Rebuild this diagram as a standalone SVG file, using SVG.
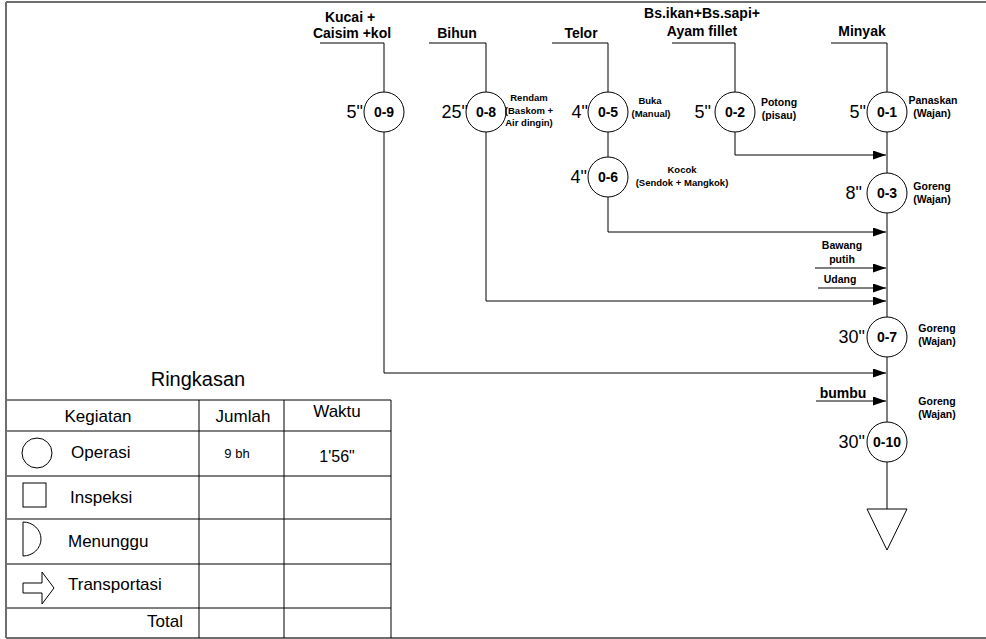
<svg xmlns="http://www.w3.org/2000/svg" width="986" height="639" viewBox="0 0 986 639">
<style>
text{font-family:"Liberation Sans",Arial,sans-serif;fill:#000}
.ln{stroke:#000;stroke-width:1;fill:none}
.frame{stroke:#6e6e6e;stroke-width:2;fill:none}
.op{fill:#fff;stroke:#000;stroke-width:1}
.id{font-size:14px;font-weight:bold;text-anchor:middle}
.t{font-size:18px;text-anchor:end}
.src{font-size:14px;font-weight:bold;text-anchor:middle}
.cap{font-size:10.5px;font-weight:bold;text-anchor:middle}
.cap2{font-size:9.5px;font-weight:bold;text-anchor:middle}
.tb{font-size:17px}
</style>
<defs>
<marker id="ah" markerUnits="userSpaceOnUse" markerWidth="14" markerHeight="10" refX="13" refY="4.5" orient="auto">
<path d="M0,0 L13,4.5 L0,9 z" fill="#000"/>
</marker>
</defs>
<rect width="986" height="639" fill="#fff"/>
<g id="frame">
<line class="frame" x1="6" y1="2" x2="986" y2="2"/>
<line class="frame" x1="6" y1="2" x2="6" y2="638"/>
<line class="frame" x1="6" y1="638" x2="986" y2="638"/>
</g>
<g id="connectors">
<polyline class="ln" points="320,43 384,43 384,92"/>
<polyline class="ln" points="429,43 486,43 486,92"/>
<polyline class="ln" points="552,43 608,43 608,92"/>
<polyline class="ln" points="672,43 735,43 735,92"/>
<polyline class="ln" points="831,43 887,43 887,509"/>
<line class="ln" x1="608" y1="132" x2="608" y2="157"/>
<polyline class="ln" points="735,132 735,155 886,155" marker-end="url(#ah)"/>
<polyline class="ln" points="608,197 608,232 886,232" marker-end="url(#ah)"/>
<line class="ln" x1="815" y1="268" x2="886" y2="268" marker-end="url(#ah)"/>
<line class="ln" x1="818" y1="288" x2="886" y2="288" marker-end="url(#ah)"/>
<polyline class="ln" points="486,132 486,301 886,301" marker-end="url(#ah)"/>
<polyline class="ln" points="384,132 384,373 886,373" marker-end="url(#ah)"/>
<line class="ln" x1="816" y1="401" x2="886" y2="401" marker-end="url(#ah)"/>
</g>
<g id="src-labels">
<text class="src" x="350" y="22">Kucai +</text>
<text class="src" x="352" y="38">Caisim +kol</text>
<text class="src" x="457" y="38">Bihun</text>
<text class="src" x="581" y="38">Telor</text>
<text class="src" x="702" y="18">Bs.ikan+Bs.sapi+</text>
<text class="src" x="702" y="36">Ayam fillet</text>
<text class="src" x="862" y="36">Minyak</text>
<text class="cap" x="842" y="249">Bawang</text>
<text class="cap" x="842" y="263">putih</text>
<text class="cap" x="840" y="283">Udang</text>
<text class="src" x="843" y="398">bumbu</text>
</g>
<g id="op-0-9">
<circle class="op" cx="384" cy="112" r="20"/>
<text class="id" x="384" y="117">0-9</text>
<text class="t" x="363" y="118">5"</text>
</g>
<g id="op-0-8">
<circle class="op" cx="486" cy="112" r="20"/>
<text class="id" x="486" y="117">0-8</text>
<text class="t" x="468" y="118">25"</text>
<text class="cap2" x="529" y="101">Rendam</text>
<text class="cap2" x="529" y="114">(Baskom +</text>
<text class="cap2" x="529" y="126">Air dingin)</text>
</g>
<g id="op-0-5">
<circle class="op" cx="608" cy="112" r="20"/>
<text class="id" x="608" y="117">0-5</text>
<text class="t" x="588" y="118">4"</text>
<text class="cap2" x="650" y="104">Buka</text>
<text class="cap2" x="651" y="117">(Manual)</text>
</g>
<g id="op-0-6">
<circle class="op" cx="608" cy="177" r="20"/>
<text class="id" x="608" y="182">0-6</text>
<text class="t" x="587" y="183">4"</text>
<text class="cap2" x="682" y="173">Kocok</text>
<text class="cap2" x="682" y="186">(Sendok + Mangkok)</text>
</g>
<g id="op-0-2">
<circle class="op" cx="735" cy="112" r="20"/>
<text class="id" x="735" y="117">0-2</text>
<text class="t" x="711" y="118">5"</text>
<text class="cap" x="779" y="106">Potong</text>
<text class="cap" x="779" y="119">(pisau)</text>
</g>
<g id="op-0-1">
<circle class="op" cx="887" cy="112" r="20"/>
<text class="id" x="887" y="117">0-1</text>
<text class="t" x="866" y="118">5"</text>
<text class="cap" x="933" y="104">Panaskan</text>
<text class="cap" x="932" y="117">(Wajan)</text>
</g>
<g id="op-0-3">
<circle class="op" cx="887" cy="193" r="20"/>
<text class="id" x="887" y="198">0-3</text>
<text class="t" x="862" y="199">8"</text>
<text class="cap" x="932" y="190">Goreng</text>
<text class="cap" x="932" y="203">(Wajan)</text>
</g>
<g id="op-0-7">
<circle class="op" cx="887" cy="337" r="20"/>
<text class="id" x="887" y="342">0-7</text>
<text class="t" x="865" y="343">30"</text>
<text class="cap" x="937" y="332">Goreng</text>
<text class="cap" x="937" y="345">(Wajan)</text>
</g>
<g id="op-0-10">
<circle class="op" cx="887" cy="442" r="20"/>
<text class="id" x="887" y="447">0-10</text>
<text class="t" x="865" y="448">30"</text>
<text class="cap" x="937" y="405">Goreng</text>
<text class="cap" x="937" y="418">(Wajan)</text>
</g>
<g id="storage">
<polygon class="op" points="867,509 907,509 887,550"/>
</g>
<g id="summary">
<text x="198" y="386" font-size="20" text-anchor="middle">Ringkasan</text>
<g class="ln">
<line x1="7" y1="400" x2="391" y2="400"/>
<line x1="7" y1="431" x2="391" y2="431"/>
<line x1="7" y1="476" x2="391" y2="476"/>
<line x1="7" y1="519" x2="391" y2="519"/>
<line x1="7" y1="564" x2="391" y2="564"/>
<line x1="7" y1="608" x2="391" y2="608"/>
<line x1="199" y1="400" x2="199" y2="638"/>
<line x1="284" y1="400" x2="284" y2="638"/>
<line x1="391" y1="400" x2="391" y2="638"/>
</g>
<text class="tb" x="98" y="422" text-anchor="middle">Kegiatan</text>
<text class="tb" x="243" y="422" text-anchor="middle">Jumlah</text>
<text class="tb" x="337" y="417" text-anchor="middle">Waktu</text>
<circle class="ln" cx="37" cy="453" r="15"/>
<text class="tb" x="71" y="458">Operasi</text>
<text x="237" y="458" font-size="13" text-anchor="middle">9 bh</text>
<text x="337" y="462" font-size="16" text-anchor="middle">1'56"</text>
<rect class="ln" x="23" y="483" width="23" height="24"/>
<text class="tb" x="70" y="503">Inspeksi</text>
<path class="ln" d="M23,522 L23,556 A18,17 0 0 0 23,522 Z"/>
<text class="tb" x="68" y="547">Menunggu</text>
<path class="ln" d="M23,583 L42,583 L42,572 L54,588 L42,604 L42,593 L23,593 Z"/>
<text class="tb" x="68" y="590">Transportasi</text>
<text class="tb" x="183" y="627" text-anchor="end">Total</text>
</g>
</svg>
